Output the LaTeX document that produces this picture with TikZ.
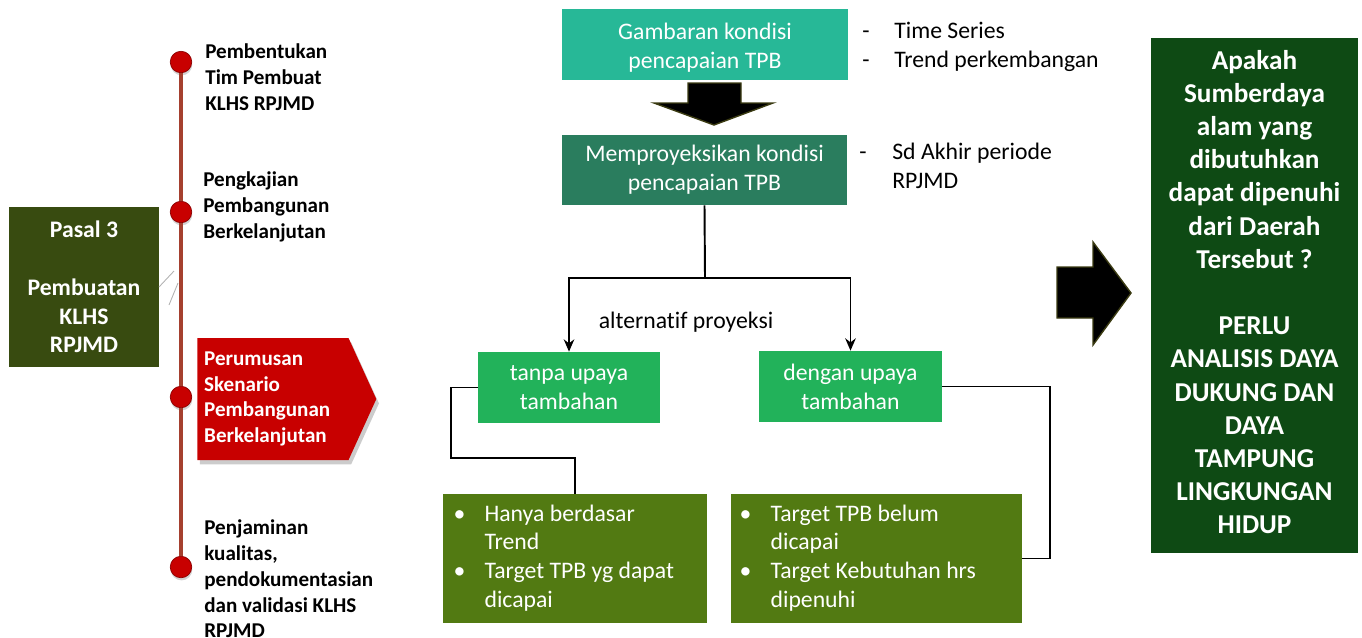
\documentclass[tikz,border=0pt]{standalone}
\usepackage{fontspec}
\setmainfont{Carlito}[Ligatures=NoCommon]
\usepackage{xcolor}
\usepackage{tikz}
\definecolor{klhsTeal}{HTML}{27B897}
\definecolor{klhsPine}{HTML}{2A7D5E}
\definecolor{klhsGreen}{HTML}{22B25A}
\definecolor{klhsOlive}{HTML}{527A12}
\definecolor{klhsMoss}{HTML}{384B10}
\definecolor{klhsForest}{HTML}{0E4A14}
\definecolor{klhsRed}{HTML}{C80000}
\definecolor{klhsRust}{HTML}{A5402F}
\definecolor{klhsEdge}{HTML}{3B3B12}
\usetikzlibrary{arrows.meta,positioning,shapes.symbols,shadows,calc}

\begin{document}
\begin{tikzpicture}[
  x=0.02cm, y=-0.02cm,
  >={Stealth[length=7pt,width=6pt]},
  box/.style={inner sep=0pt, align=center, text=white, font=\fontsize{13.5}{16.4}\selectfont},
  stage/.style={anchor=west, align=left, inner sep=0pt, font=\bfseries\fontsize{12}{14.7}\selectfont},
  milestone/.style={circle, fill=klhsRed, draw=klhsRed!70!black, line width=0.4pt, minimum size=0.43cm, inner sep=0pt, drop shadow={opacity=0.35, shadow xshift=0.3pt, shadow yshift=-1.5pt}},
  note/.style={anchor=west, align=left, inner sep=0pt, font=\fontsize{13.5}{16.4}\selectfont},
  link/.style={line width=1.1pt, black},
  flow/.style={->, line width=1.1pt, black},
  blockarrow/.style={fill=black, draw=klhsEdge, line width=0.8pt, line join=miter}
]
\useasboundingbox (0,0) rectangle (1362,637);

% Timeline on the left
\node[milestone] (m1) at (181,62) {};
\node[milestone] (m2) at (181,212) {};
\node[milestone] (m3) at (181,397) {};
\node[milestone] (m4) at (181,567) {};
\draw[klhsRust, line width=2pt] (m1) -- (m2) -- (m3) -- (m4);

\node[stage] (s1) at (205,77) {Pembentukan\\Tim Pembuat\\KLHS RPJMD};
\node[stage] (s2) at (203,207) {Pengkajian\\Pembangunan\\Berkelanjutan};
\node[signal, signal to=east, signal pointer angle=131, fill=klhsRed, anchor=west,
      minimum width=3.58cm, minimum height=2.44cm, inner sep=0pt, text width=2.75cm,
      align=left, text=white, font=\bfseries\fontsize{12}{14.7}\selectfont,
      drop shadow={opacity=0.4, shadow xshift=1.5pt, shadow yshift=-2.5pt}] (s3) at (197,399)
      {Perumusan\\Skenario\\Pembangunan\\Berkelanjutan};
\node[stage] (s4) at (204,579) {Penjaminan\\kualitas,\\pendokumentasian\\dan validasi KLHS\\RPJMD};

\node[box, fill=klhsMoss, minimum width=3.0cm, minimum height=3.2cm,
      font=\bfseries\fontsize{13.5}{16.4}\selectfont] (pasal) at (84,287)
      {Pasal 3\\[16.4pt]Pembuatan\\KLHS\\RPJMD};
\draw[gray!60, line width=0.5pt] (159,287) -- (174,271);
\draw[gray!60, line width=0.5pt] (169,305) -- (178,283);

% Projection flow
\node[box, fill=klhsTeal, minimum width=5.72cm, minimum height=1.42cm] (gambaran) at (705,44.5) {\rule{0pt}{13pt}Gambaran kondisi\\pencapaian TPB};
\node[box, fill=klhsPine, minimum width=5.70cm, minimum height=1.40cm] (proyeksi) at (704.5,170) {Memproyeksikan kondisi\\pencapaian TPB};
\draw[blockarrow] (688,83) -- (741,83) -- (741,103) -- (773,103) -- (714,125) -- (654,103) -- (688,103) -- cycle;

\node[note] (seri) at (862,47) {\begin{tabular}{@{}p{0.64cm}@{}l@{}}-&Time Series\\-&Trend perkembangan\end{tabular}};
\node[note] (periode) at (859,168) {\begin{tabular}{@{}p{0.66cm}@{}l@{}}-&Sd Akhir periode\\&RPJMD\end{tabular}};

\node[box, fill=klhsGreen, minimum width=3.64cm, minimum height=1.42cm] (tanpa) at (569,387.5) {tanpa upaya\\tambahan};
\node[box, fill=klhsGreen, minimum width=3.66cm, minimum height=1.42cm] (dengan) at (850.5,386.5) {dengan upaya\\tambahan};
\node[note, anchor=center] (alt) at (686,322) {alternatif proyeksi};

\coordinate (split) at (705,278);
\draw[link] (proyeksi.south) -- (split);
\draw[flow] (split) -| (tanpa.north);
\draw[flow] (split) -| (dengan.north);

\node[box, fill=klhsOlive, minimum width=5.28cm, minimum height=2.58cm] (hasilA) at (575,558.5)
  {\begin{tabular}{@{}p{0.62cm}@{}l@{\hspace{0.45cm}}}\textbullet&Hanya berdasar\\&Trend\\\textbullet&Target TPB yg dapat\\&dicapai\end{tabular}};
\node[box, fill=klhsOlive, minimum width=5.82cm, minimum height=2.58cm] (hasilB) at (876.5,558.5)
  {\begin{tabular}{@{}p{0.62cm}@{}l@{\hspace{0.75cm}}}\textbullet&Target TPB belum\\&dicapai\\\textbullet&Target Kebutuhan hrs\\&dipenuhi\end{tabular}};

\coordinate (bendA) at (451,458);
\coordinate (bendB) at (1050,458);
\draw[link] (tanpa.west) -| (bendA) -| (hasilA.north);
\draw[link] (dengan.east) -| (bendB) |- (hasilB.east);

% Conclusion
\draw[blockarrow] (1057,267) -- (1093,267) -- (1093,242) -- (1131,293) -- (1093,345) -- (1093,318) -- (1057,318) -- cycle;
\node[box, fill=klhsForest, minimum width=4.14cm, minimum height=10.3cm,
      font=\bfseries\fontsize{15.5}{18.9}\selectfont] (tanya) at (1254.5,295.5)
      {Apakah\\Sumberdaya\\alam yang\\dibutuhkan\\dapat dipenuhi\\dari Daerah\\Tersebut ?\\[18.9pt]PERLU\\ANALISIS DAYA\\DUKUNG DAN\\DAYA\\TAMPUNG\\LINGKUNGAN\\HIDUP\rule[-4pt]{0pt}{0pt}};

\end{tikzpicture}
\end{document}
